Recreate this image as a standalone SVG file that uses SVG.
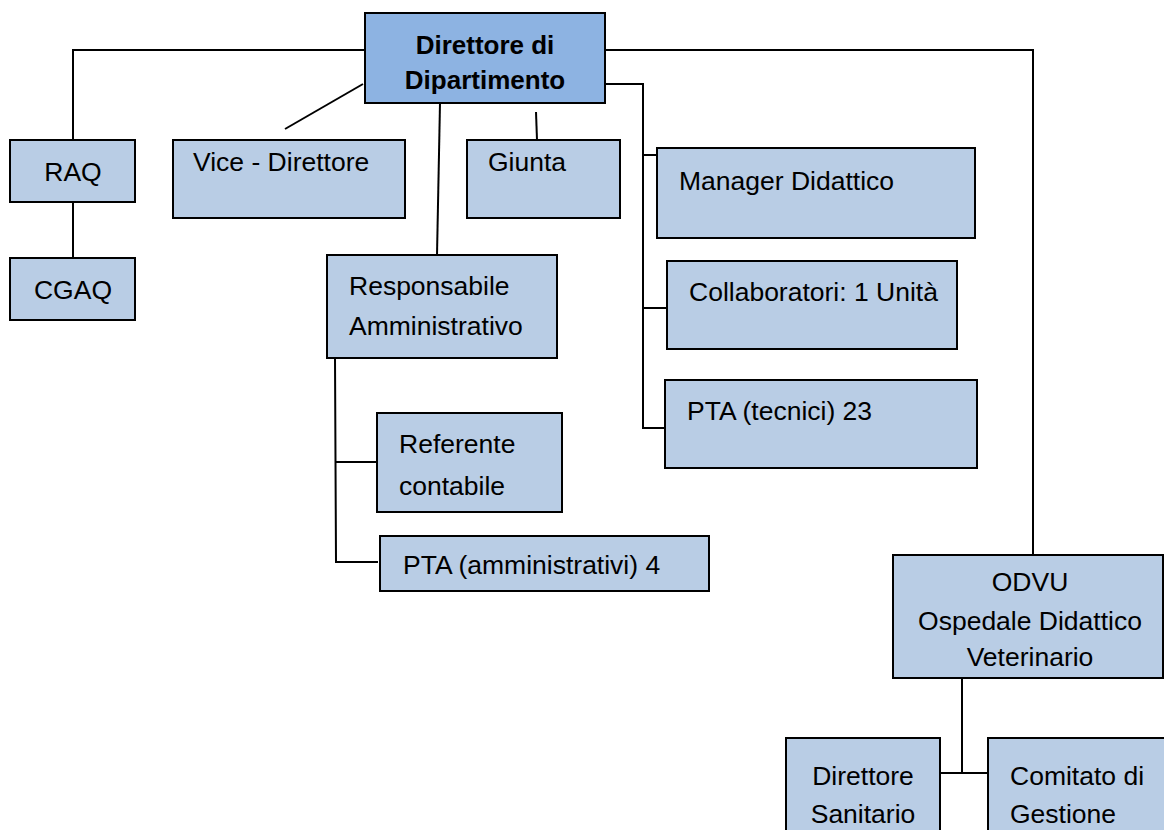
<svg xmlns="http://www.w3.org/2000/svg" width="1164" height="830" viewBox="0 0 1164 830">
<style>
.box{fill:#B9CDE5;stroke:#000;stroke-width:2}
.main{fill:#8DB3E2;stroke:#000;stroke-width:2}
.t{font-family:"Liberation Sans",Arial,sans-serif;font-size:26.5px;fill:#000}
.b{font-weight:bold;font-size:26px}
.c{text-anchor:middle}
.ln{stroke:#000;stroke-width:2;fill:none}
</style>
<rect x="0" y="0" width="1164" height="830" fill="#fff"/>
<g id="connectors">
<polyline class="ln" points="365,50 73,50 73,140"/>
<line class="ln" x1="73" y1="202" x2="73" y2="258"/>
<line class="ln" x1="363" y1="84" x2="285" y2="129"/>
<line class="ln" x1="536" y1="112" x2="537" y2="140"/>
<line class="ln" x1="440" y1="103" x2="437" y2="255"/>
<polyline class="ln" points="335,358 336,562 378,562"/>
<line class="ln" x1="336" y1="462" x2="377" y2="462"/>
<polyline class="ln" points="605,50 1033,50 1033,555"/>
<polyline class="ln" points="605,84 643,84 643,428 665,428"/>
<line class="ln" x1="643" y1="155" x2="657" y2="155"/>
<line class="ln" x1="643" y1="308" x2="667" y2="308"/>
<polyline class="ln" points="962,678 962,773"/>
<line class="ln" x1="940" y1="773" x2="988" y2="773"/>
</g>
<g id="direttore-dipartimento">
<rect class="main" x="365" y="13" width="240" height="90"/>
<text class="t b c" x="485" y="54">Direttore di</text>
<text class="t b c" x="485" y="89">Dipartimento</text>
</g>
<g id="raq">
<rect class="box" x="10" y="140" width="125" height="62"/>
<text class="t c" x="73" y="181">RAQ</text>
</g>
<g id="cgaq">
<rect class="box" x="10" y="258" width="125" height="62"/>
<text class="t c" x="73" y="299">CGAQ</text>
</g>
<g id="vice-direttore">
<rect class="box" x="173" y="140" width="232" height="78"/>
<text class="t" x="193" y="171">Vice - Direttore</text>
</g>
<g id="giunta">
<rect class="box" x="467" y="140" width="153" height="78"/>
<text class="t" x="488" y="171">Giunta</text>
</g>
<g id="responsabile-amministrativo">
<rect class="box" x="327" y="255" width="230" height="103"/>
<text class="t" x="349" y="295">Responsabile</text>
<text class="t" x="349" y="335">Amministrativo</text>
</g>
<g id="referente-contabile">
<rect class="box" x="377" y="413" width="185" height="99"/>
<text class="t" x="399" y="453">Referente</text>
<text class="t" x="399" y="495">contabile</text>
</g>
<g id="pta-amministrativi">
<rect class="box" x="380" y="536" width="329" height="55"/>
<text class="t" x="403" y="574">PTA (amministrativi) 4</text>
</g>
<g id="manager-didattico">
<rect class="box" x="657" y="148" width="318" height="90"/>
<text class="t" x="679" y="190">Manager Didattico</text>
</g>
<g id="collaboratori">
<rect class="box" x="667" y="261" width="290" height="88"/>
<text class="t" x="689" y="301">Collaboratori: 1 Unità</text>
</g>
<g id="pta-tecnici">
<rect class="box" x="665" y="380" width="312" height="88"/>
<text class="t" x="687" y="420">PTA (tecnici) 23</text>
</g>
<g id="odvu">
<rect class="box" x="893" y="555" width="270" height="123"/>
<text class="t c" x="1030" y="591">ODVU</text>
<text class="t c" x="1030" y="630">Ospedale Didattico</text>
<text class="t c" x="1030" y="666">Veterinario</text>
</g>
<g id="direttore-sanitario">
<rect class="box" x="786" y="738" width="154" height="100"/>
<text class="t c" x="863" y="785">Direttore</text>
<text class="t c" x="863" y="823">Sanitario</text>
</g>
<g id="comitato-gestione">
<rect class="box" x="988" y="738" width="180" height="100"/>
<text class="t" x="1010" y="785">Comitato di</text>
<text class="t" x="1010" y="823">Gestione</text>
</g>
</svg>
